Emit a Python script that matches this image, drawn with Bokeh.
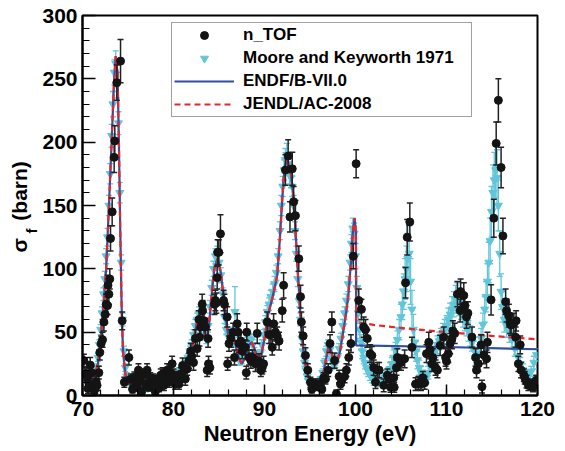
from bokeh.plotting import figure
from bokeh.models import Range1d, FixedTicker, Title, Legend, LegendItem, ColumnDataSource
from bokeh.embed import file_html
from bokeh.resources import INLINE

# ---------------- data ----------------
x_ticks = [70, 80, 90, 100, 110, 120]
x_minor = [70, 72, 74, 76, 78, 80, 82, 84, 86, 88, 90, 92, 94, 96, 98, 100,
           102, 104, 106, 108, 110, 112, 114, 116, 118, 120]
y_ticks = [0, 50, 100, 150, 200, 250, 300]
y_minor = [0, 10, 20, 30, 40, 50, 60, 70, 80, 90, 100, 110, 120, 130, 140, 150,
           160, 170, 180, 190, 200, 210, 220, 230, 240, 250, 260, 270, 280, 290, 300]

# n_TOF points: (energy eV, sigma barn, error barn)
ntof_70_76 = [(70.15, 27.6, 5), (70.3, 17, 5), (70.45, 16, 5), (70.55, 14.5, 4), (70.6, 5.5, 4),
              (70.7, 9.5, 4), (70.85, 24, 6), (71.0, 18, 5), (71.1, 5.5, 4), (71.3, 4, 3),
              (71.4, 5.5, 4), (71.5, 11, 4), (71.6, 8, 4), (71.8, 18, 5), (71.9, 34, 6),
              (72.05, 41, 6), (72.2, 44, 6), (72.35, 58, 7), (72.5, 64, 7), (72.6, 72, 8),
              (72.75, 71, 7), (72.8, 87, 8), (72.9, 80, 8), (73.0, 92, 8), (73.08, 124, 10),
              (73.26, 145, 11), (73.48, 188, 12), (73.55, 201, 12), (73.77, 247, 14),
              (74.18, 264, 17), (74.36, 59, 7), (74.6, 10.5, 4), (75.1, 30, 6), (75.3, 13, 4),
              (75.5, 5, 3), (75.7, 14.5, 4), (75.9, 9, 4)]
ntof_76_84 = [(76.0, 6.5, 3), (76.15, 20, 5), (76.3, 13, 4), (76.5, 3, 3), (76.6, 16, 5),
              (76.9, 9, 4), (77.1, 20, 5), (77.3, 6.5, 3), (77.45, 14, 4), (77.6, 9.5, 4),
              (77.8, 13, 4), (78.0, 3, 3), (78.2, 12, 4), (78.4, 6, 3), (78.6, 16, 5),
              (78.8, 17, 5), (78.95, 8, 4), (79.1, 13, 4), (79.3, 20, 5), (79.5, 10.5, 4),
              (79.7, 18, 5), (79.85, 25, 6), (80.0, 16, 5), (80.2, 9, 4), (80.4, 14, 5),
              (80.6, 9, 4), (80.8, 17, 5), (81.0, 23.7, 6), (81.15, 20, 5), (81.3, 13, 5),
              (81.5, 21, 5), (81.7, 27.6, 6), (81.9, 35, 6), (82.0, 31, 6), (82.2, 26, 6),
              (82.4, 45, 7), (82.6, 37, 6), (82.8, 60, 7), (82.85, 46, 7), (83.0, 54, 7),
              (83.15, 72, 8), (83.2, 67, 8), (83.35, 59, 7), (83.5, 54, 7), (83.7, 20, 5),
              (83.8, 45, 7), (83.85, 25, 6), (84.0, 22, 5)]
ntof_84_92 = [(84.5, 72, 8), (84.6, 75, 8), (84.7, 73, 8), (84.8, 93, 9), (84.85, 113, 10),
              (84.98, 113, 10), (85.16, 127.6, 15), (85.5, 75, 8), (85.6, 72, 8), (85.9, 62, 8),
              (85.95, 25, 5), (86.1, 41, 6), (86.3, 45, 7), (86.55, 50, 7), (86.7, 30, 6),
              (87.0, 56.6, 8), (87.1, 50, 7), (87.2, 41, 7), (87.4, 43, 7), (87.55, 35, 6),
              (87.9, 38, 6), (88.0, 18, 5), (88.05, 50, 7), (88.3, 30, 6), (88.5, 27.6, 6),
              (88.7, 30, 6), (89.0, 25, 6), (89.2, 49, 8), (89.4, 27, 6), (89.6, 20, 5),
              (89.75, 22, 5), (89.9, 25, 6), (90.3, 58, 8), (90.5, 48, 7), (90.7, 48, 7),
              (90.85, 38, 6), (91.0, 56.6, 8), (91.2, 50, 7), (91.4, 47, 7), (91.6, 43, 7),
              (91.95, 67, 9)]
ntof_92_100 = [(92.1, 87, 10), (92.3, 178, 12), (92.6, 189, 13), (92.8, 141, 12), (93.05, 179, 13),
               (93.2, 153, 12), (93.4, 142, 12), (93.77, 108, 10), (93.96, 78, 9), (94.05, 58, 8),
               (94.25, 47, 7), (94.5, 31.6, 6), (94.76, 20, 5), (95.05, 10.5, 4), (95.2, 5, 3),
               (95.4, 9, 4), (95.6, 9, 4), (95.8, 7, 3), (96.1, 9, 4), (96.3, 5, 3),
               (96.5, 14, 4), (96.7, 13, 4), (97.0, 20, 5), (97.2, 41, 7), (97.4, 58, 8),
               (97.7, 27.6, 6), (97.9, 1.3, 3), (98.2, 15, 5), (98.35, 9, 4), (98.5, 12, 4),
               (98.8, 15, 5), (99.0, 20, 5), (99.26, 30, 6), (99.5, 41, 7), (99.75, 110, 10),
               (100.07, 183, 11)]
ntof_100_110 = [(100.36, 75, 9), (100.65, 68, 8), (100.9, 54, 8), (101.1, 52, 8), (101.3, 45, 7),
                (101.6, 33, 7), (101.8, 31.6, 7), (102.0, 22, 6), (102.2, 10.5, 5), (102.4, 20, 6),
                (102.6, 20, 6), (103.1, 8, 5), (103.5, 16, 5), (103.7, 13, 5), (103.85, 6.5, 4),
                (104.2, 14, 5), (104.25, 6.5, 4), (104.5, 22, 6), (104.6, 30, 7), (105.0, 26, 6),
                (105.4, 29, 7), (105.5, 89, 12), (105.68, 125, 14), (105.97, 137, 15), (106.2, 38, 8),
                (106.6, 9, 5), (106.9, 10, 5), (107.2, 9, 5), (107.4, 14, 5), (107.6, 10, 5),
                (107.8, 33, 7), (108.05, 42, 8), (108.2, 36, 7), (108.4, 25, 6), (108.5, 30, 7),
                (108.8, 22, 6), (109.0, 20, 6), (109.3, 39.5, 8), (109.7, 46, 8), (109.9, 30, 7)]
ntof_110_120 = [(110.0, 27, 6), (110.2, 33, 7), (110.4, 41, 8), (110.6, 45, 8), (110.7, 51, 8),
                (110.9, 49, 8), (111.2, 80, 10), (111.5, 67, 9), (111.55, 82, 10), (111.9, 79, 10),
                (112.0, 71, 9), (112.2, 62, 9), (112.35, 65, 9), (112.8, 46, 8), (113.2, 30, 7),
                (113.3, 20, 6), (113.5, 25, 6), (113.8, 40, 8), (113.9, 7, 5), (114.1, 32, 7),
                (114.4, 29, 7), (114.5, 42, 8), (114.9, 75.5, 12), (115.2, 140, 15), (115.46, 199, 17),
                (115.7, 233, 17), (116.0, 180, 16), (116.2, 126, 14), (116.5, 74, 10), (116.6, 67, 9),
                (116.85, 63, 9), (117.0, 57, 8), (117.1, 55.6, 8), (117.4, 57, 8), (117.6, 46, 8),
                (117.65, 59, 8), (117.9, 25, 6), (118.1, 40, 7), (118.2, 20, 6), (118.5, 16, 5),
                (118.6, 14, 5), (118.8, 11, 5), (119.0, 8, 4), (119.3, 9, 4), (119.5, 7, 4),
                (119.7, 8, 4), (119.85, 12, 4)]

# Moore and Keyworth 1971: (energy eV, sigma barn, error barn)
mk_70_80 = [(70.05, 20, 3), (70.2, 16, 3), (70.35, 13, 2), (70.5, 15, 2), (70.65, 12, 2), (70.8, 14, 2),
            (70.95, 13, 2), (71.1, 17, 3), (71.25, 16, 3), (71.4, 20, 3), (71.55, 22, 3), (71.7, 30, 3),
            (71.85, 40, 4), (72.0, 52, 4), (72.15, 65, 5), (72.3, 80, 5), (72.45, 92, 6), (72.6, 110, 6),
            (72.75, 125, 7), (72.9, 150, 8), (73.05, 175, 8), (73.2, 205, 9), (73.35, 230, 10),
            (73.5, 255, 10), (73.65, 262, 10), (73.8, 245, 10), (73.95, 215, 9), (74.1, 160, 8),
            (74.25, 105, 6), (74.4, 60, 5), (74.55, 35, 4), (74.7, 22, 3), (74.85, 15, 3), (75.0, 12, 2),
            (75.2, 10, 2), (75.4, 9, 2), (75.6, 8, 2), (75.8, 7, 2), (76.0, 6, 2), (76.2, 7, 2),
            (76.4, 5, 2), (76.6, 6, 2), (76.8, 5, 2), (77.0, 7, 2), (77.2, 6, 2), (77.4, 8, 2),
            (77.6, 7, 2), (77.8, 9, 2), (78.0, 8, 2), (78.2, 10, 2), (78.4, 9, 2), (78.6, 11, 2),
            (78.8, 10, 2), (79.0, 12, 2), (79.2, 11, 2), (79.4, 13, 2), (79.6, 14, 2), (79.8, 13, 2)]
mk_80_90 = [(80.0, 16, 2), (80.2, 15, 2), (80.4, 17, 3), (80.6, 19, 3), (80.8, 18, 3), (81.0, 21, 3),
            (81.2, 23, 3), (81.4, 26, 3), (81.6, 30, 3), (81.8, 35, 4), (82.0, 40, 4), (82.2, 48, 4),
            (82.4, 55, 5), (82.6, 60, 5), (82.8, 65, 5), (83.0, 63, 5), (83.2, 57, 5), (83.4, 48, 4),
            (83.6, 45, 4), (83.8, 55, 5), (84.0, 70, 5), (84.2, 85, 6), (84.4, 100, 6), (84.6, 110, 6),
            (84.8, 112, 6), (85.0, 105, 6), (85.2, 95, 6), (85.4, 80, 5), (85.6, 62, 5), (85.8, 52, 4),
            (86.0, 47, 4), (86.2, 50, 4), (86.4, 48, 4), (86.6, 42, 4), (86.75, 66, 20), (86.9, 34, 4),
            (87.1, 30, 3), (87.3, 27, 3), (87.5, 28, 3), (87.7, 33, 3), (87.9, 38, 4), (88.1, 42, 4),
            (88.3, 45, 4), (88.5, 44, 4), (88.7, 40, 4), (88.9, 34, 4), (89.1, 30, 3), (89.3, 29, 3),
            (89.5, 33, 3), (89.7, 40, 4), (89.9, 48, 4)]
mk_90_100 = [(90.1, 58, 5), (90.3, 66, 5), (90.5, 72, 5), (90.7, 78, 5), (90.9, 82, 6), (91.1, 88, 6),
             (91.3, 97, 6), (91.5, 110, 6), (91.7, 130, 7), (91.85, 150, 8), (92.0, 165, 8),
             (92.15, 178, 8), (92.3, 186, 9), (92.45, 190, 9), (92.6, 183, 9), (92.75, 175, 8),
             (92.9, 172, 8), (93.05, 165, 8), (93.2, 150, 8), (93.35, 130, 7), (93.5, 112, 6),
             (93.65, 92, 6), (93.8, 75, 5), (93.95, 60, 5), (94.1, 45, 4), (94.25, 35, 4), (94.4, 26, 3),
             (94.55, 20, 3), (94.7, 15, 2), (94.85, 12, 2), (95.0, 10, 2), (95.2, 9, 2), (95.4, 8, 2),
             (95.6, 8, 2), (95.8, 9, 2), (96.0, 11, 2), (96.2, 13, 2), (96.4, 18, 3), (96.6, 26, 3),
             (96.8, 35, 4), (97.0, 40, 4), (97.2, 36, 4), (97.4, 28, 3), (97.6, 24, 3), (97.8, 25, 3),
             (98.0, 30, 3), (98.2, 37, 4), (98.4, 45, 4), (98.6, 55, 5), (98.8, 65, 5), (99.0, 75, 5),
             (99.2, 88, 6), (99.4, 105, 6), (99.55, 120, 7), (99.7, 132, 8), (99.85, 128, 8)]
mk_100_110 = [(100.0, 110, 10), (100.15, 85, 9), (100.3, 65, 8), (100.45, 52, 7), (100.6, 42, 6),
              (100.75, 35, 6), (100.9, 30, 5), (101.05, 26, 5), (101.2, 22, 5), (101.4, 19, 4),
              (101.6, 16, 4), (101.8, 14, 4), (102.0, 12, 4), (102.2, 11, 3), (102.4, 10, 3),
              (102.6, 11, 3), (102.8, 12, 3), (103.0, 13, 4), (103.2, 14, 4), (103.4, 16, 4),
              (103.6, 18, 4), (103.8, 21, 5), (104.0, 25, 5), (104.2, 30, 6), (104.4, 36, 6),
              (104.6, 44, 7), (104.8, 52, 8), (105.0, 62, 10), (105.15, 72, 12), (105.3, 82, 14),
              (105.45, 92, 16), (105.6, 100, 18), (105.75, 108, 20), (105.9, 112, 22), (106.05, 90, 18),
              (106.2, 68, 15), (106.35, 52, 12), (106.5, 42, 10), (106.65, 35, 8), (106.8, 28, 7),
              (107.0, 22, 6), (107.2, 18, 5), (107.4, 15, 5), (107.6, 13, 4), (107.8, 14, 4),
              (108.0, 18, 5), (108.2, 24, 5), (108.4, 28, 6), (108.6, 32, 6), (108.8, 36, 6),
              (109.0, 40, 7), (109.2, 43, 7), (109.4, 46, 7), (109.6, 49, 8), (109.8, 52, 8)]
mk_110_120 = [(110.0, 55, 8), (110.2, 60, 9), (110.4, 64, 9), (110.6, 68, 10), (110.8, 72, 10),
              (111.0, 76, 11), (111.2, 78, 11), (111.4, 74, 11), (111.6, 70, 10), (111.8, 64, 10),
              (112.0, 60, 9), (112.2, 56, 9), (112.4, 51, 8), (112.6, 47, 8), (112.8, 42, 7),
              (113.0, 36, 7), (113.2, 30, 6), (113.4, 26, 6), (113.6, 33, 7), (113.8, 45, 8),
              (114.0, 56, 9), (114.2, 68, 10), (114.35, 78, 12), (114.5, 90, 14), (114.65, 105, 16),
              (114.8, 122, 18), (114.95, 145, 20), (115.1, 160, 22), (115.25, 170, 22), (115.4, 178, 22),
              (115.55, 172, 22), (115.7, 150, 20), (115.85, 112, 18), (116.0, 82, 14), (116.15, 70, 12),
              (116.35, 60, 10), (116.6, 55, 9), (116.9, 50, 8), (117.2, 44, 7), (117.5, 37, 6),
              (117.8, 31, 6), (118.1, 25, 5), (118.4, 20, 5), (118.7, 16, 4), (119.0, 15, 4),
              (119.3, 19, 4), (119.6, 26, 5), (119.9, 32, 5)]

# Evaluated curves: resolved resonance region (shared) and smooth tails
eval_resolved = [(70.0, 18), (70.7, 14.5), (71.3, 15), (71.7, 25), (72.0, 45), (72.3, 70), (72.6, 100),
                 (72.9, 149), (73.2, 200), (73.45, 245), (73.65, 268), (73.85, 255), (74.0, 200),
                 (74.15, 130), (74.3, 70), (74.45, 35), (74.7, 17), (75.0, 11), (75.5, 8), (76.5, 6),
                 (77.5, 6.5), (78.5, 8), (79.5, 10.5), (80.3, 13), (81.0, 17), (81.6, 26), (82.1, 40),
                 (82.6, 58), (82.95, 63), (83.3, 52), (83.6, 42), (83.9, 55), (84.2, 80), (84.5, 101),
                 (84.85, 108), (85.2, 97), (85.5, 78), (85.8, 58), (86.0, 48), (86.3, 49), (86.7, 44),
                 (87.1, 31), (87.5, 25), (87.9, 30), (88.3, 40), (88.6, 42), (88.9, 37), (89.3, 28),
                 (89.6, 30), (90.0, 45), (90.4, 64), (90.9, 78), (91.4, 95), (91.7, 125), (91.95, 155),
                 (92.2, 180), (92.5, 188), (92.75, 178), (92.9, 175), (93.1, 163), (93.3, 145),
                 (93.6, 104), (93.95, 64), (94.3, 32), (94.7, 17), (95.1, 11), (95.6, 9), (96.0, 10),
                 (96.4, 15), (96.8, 30), (97.1, 41), (97.4, 33), (97.7, 24), (98.0, 27), (98.3, 35),
                 (98.6, 48), (98.9, 62), (99.2, 78), (99.5, 105), (99.7, 128), (99.9, 140), (100.05, 128)]
endf_tail = [(100.07, 39.5), (110.0, 38.3), (120.0, 36.5)]
jendl_tail = [(100.07, 58), (102.0, 55.7), (106.0, 52.6), (110.0, 50), (115.0, 47), (120.0, 44.3)]

# ---------------- build sources ----------------
def unpack(*groups):
    rows = [r for g in groups for r in g]
    e = [r[0] for r in rows]
    s = [r[1] for r in rows]
    err = [r[2] for r in rows]
    return dict(e=e, s=s, lo=[a - b for a, b in zip(s, err)], hi=[a + b for a, b in zip(s, err)])

ntof = ColumnDataSource(unpack(ntof_70_76, ntof_76_84, ntof_84_92, ntof_92_100, ntof_100_110, ntof_110_120))
mk = ColumnDataSource(unpack(mk_70_80, mk_80_90, mk_90_100, mk_100_110, mk_110_120))
endf_pts = eval_resolved + endf_tail
jendl_pts = eval_resolved + jendl_tail
endf = ColumnDataSource(dict(e=[r[0] for r in endf_pts], s=[r[1] for r in endf_pts]))
jendl = ColumnDataSource(dict(e=[r[0] for r in jendl_pts], s=[r[1] for r in jendl_pts]))

FONT = "Liberation Sans"
CYAN = "#62c6da"
BLUE = "#2e4fa3"
RED = "#ee2229"
BLACK = "#141414"

p = figure(width=565, height=451, output_backend="svg", toolbar_location=None,
           x_range=Range1d(70, 120), y_range=Range1d(0, 300),
           min_border_left=82, min_border_right=28, min_border_top=15, min_border_bottom=56)
p.background_fill_color = "white"
p.border_fill_color = "white"
p.grid.visible = False
p.outline_line_color = "black"
p.outline_line_width = 2

# Moore and Keyworth (cyan)
p.segment(x0="e", y0="lo", x1="e", y1="hi", source=mk, line_color=CYAN, line_width=1.3)
p.scatter(x="e", y="hi", source=mk, marker="dash", size=6, line_color=CYAN, line_width=1.3)
p.scatter(x="e", y="lo", source=mk, marker="dash", size=6, line_color=CYAN, line_width=1.3)
r_mk = p.scatter(x="e", y="s", source=mk, marker="inverted_triangle", size=8,
                 fill_color=CYAN, line_color=CYAN)

# evaluations
r_endf = p.line(x="e", y="s", source=endf, line_color=BLUE, line_width=2.2)
r_jendl = p.line(x="e", y="s", source=jendl, line_color=RED, line_width=2.2, line_dash="6 4")

# n_TOF (black)
p.segment(x0="e", y0="lo", x1="e", y1="hi", source=ntof, line_color="#222222", line_width=1.5)
p.scatter(x="e", y="hi", source=ntof, marker="dash", size=6, line_color="#222222", line_width=1.5)
p.scatter(x="e", y="lo", source=ntof, marker="dash", size=6, line_color="#222222", line_width=1.5)
r_ntof = p.scatter(x="e", y="s", source=ntof, marker="circle", size=8,
                   fill_color=BLACK, line_color=BLACK)

# axes
for ax in (p.xaxis[0], p.yaxis[0]):
    ax.axis_line_width = 2
    ax.axis_line_color = "black"
    ax.major_tick_out = 0
    ax.minor_tick_out = 0
    ax.major_tick_line_width = 1.5
    ax.minor_tick_line_width = 1.2
    ax.major_label_text_font = FONT
    ax.major_label_text_font_style = "bold"
    ax.major_label_text_font_size = "21px"
    ax.major_label_text_color = "black"

p.xaxis.ticker = FixedTicker(ticks=x_ticks, minor_ticks=x_minor)
p.yaxis.ticker = FixedTicker(ticks=y_ticks, minor_ticks=y_minor)
p.xaxis.major_tick_in = 11
p.xaxis.minor_tick_in = 6
p.yaxis.major_tick_in = 13
p.yaxis.minor_tick_in = 7
p.xaxis.major_label_standoff = 6
p.yaxis.major_label_standoff = 5
p.xaxis.axis_label = "Neutron Energy (eV)"
p.xaxis.axis_label_text_font = FONT
p.xaxis.axis_label_text_font_style = "bold"
p.xaxis.axis_label_text_font_size = "22px"
p.xaxis.axis_label_text_color = "black"
p.xaxis.axis_label_standoff = 2

# y-axis title "σ_f (barn)": subscript column next to the tick labels, main text outside it
p.add_layout(Title(text="f", align="left", offset=162, standoff=0, text_font=FONT,
                   text_font_style="bold", text_font_size="15px", text_color="black"), "left")
p.add_layout(Title(text="σ\u00a0\u00a0\u00a0(barn)", align="left", offset=143, standoff=-20,
                   text_font=FONT, text_font_style="bold", text_font_size="21px",
                   text_color="black"), "left")

legend = Legend(items=[LegendItem(label="n_TOF", renderers=[r_ntof]),
                       LegendItem(label="Moore and Keyworth 1971", renderers=[r_mk]),
                       LegendItem(label="ENDF/B-VII.0", renderers=[r_endf]),
                       LegendItem(label="JENDL/AC-2008", renderers=[r_jendl])],
                location=(89, 278), margin=0, padding=2, spacing=3,
                glyph_width=60, glyph_height=20, label_height=20, label_width=226,
                label_standoff=9, label_text_font=FONT, label_text_font_style="bold",
                label_text_font_size="17px", label_text_color="black",
                border_line_color="#444444", border_line_width=1.5,
                background_fill_color="white", background_fill_alpha=1.0)
p.add_layout(legend)

open("out.html", "w").write(file_html(p, INLINE))
